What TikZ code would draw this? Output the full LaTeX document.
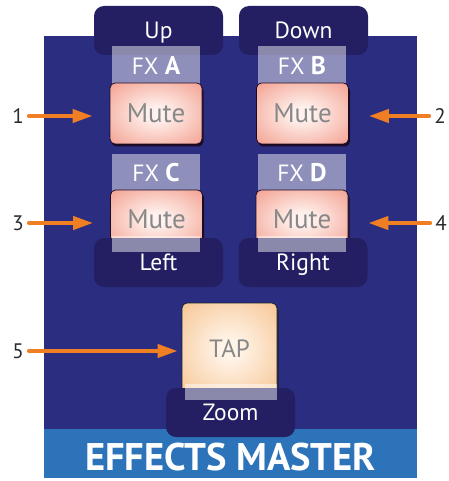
\documentclass[tikz,border=0pt]{standalone}
\usepackage{fontspec}
\setmainfont{PT Sans}
\usetikzlibrary{arrows.meta,calc,shadows}
\definecolor{panelblue}{HTML}{2B2E80}
\definecolor{tabnavy}{HTML}{231F62}
\definecolor{bandblue}{HTML}{2C73B9}
\definecolor{muteedge}{HTML}{F3A090}
\definecolor{mutecenter}{HTML}{FFF2EE}
\definecolor{tapedge}{HTML}{F6C28E}
\definecolor{tapcenter}{HTML}{FFF4E8}
\definecolor{btntext}{HTML}{888888}
\definecolor{arroworange}{HTML}{F07E22}
\definecolor{muteshadow}{HTML}{1C0A22}
\definecolor{tapshadow}{HTML}{16202A}
\definecolor{numtext}{HTML}{2A2A2A}
\pgfdeclareradialshading{mutegrad}{\pgfpoint{0bp}{0bp}}{color(0bp)=(mutecenter); color(5bp)=(mutecenter); color(36bp)=(muteedge); color(80bp)=(muteedge)}
\pgfdeclareradialshading{tapgrad}{\pgfpoint{0bp}{0bp}}{color(0bp)=(tapcenter); color(5bp)=(tapcenter); color(38bp)=(tapedge); color(80bp)=(tapedge)}
\newcommand{\fxletter}[1]{{\fontsize{25.5}{26}\selectfont\bfseries #1}}
\tikzset{
  tabbox/.style={fill=tabnavy, rounded corners=10pt, minimum width=129pt, minimum height=49pt,
    inner sep=0pt, text=white, font=\fontsize{23.5}{26}\selectfont, text height=16pt, text depth=0pt},
  stripbox/.style={fill=white, fill opacity=0.47, text opacity=1, text=white, inner sep=0pt,
    minimum width=88pt, font=\fontsize{23.5}{26}\selectfont, text height=16pt, text depth=0pt},
  mutebtn/.style={rounded corners=5pt, shading=mutegrad,
    minimum width=92pt, minimum height=61pt, inner sep=0pt, text=btntext,
    font=\fontsize{27}{30}\selectfont, draw=muteshadow, line width=0.8pt,
    drop shadow={shadow xshift=1.5pt, shadow yshift=-2.5pt, fill=muteshadow, opacity=0.95}},
  tapbtn/.style={rounded corners=5pt, shading=tapgrad,
    minimum width=95pt, minimum height=92pt, inner sep=0pt, text=btntext,
    font=\fontsize{25}{28}\selectfont, draw=tapshadow, line width=0.8pt,
    drop shadow={shadow xshift=1.5pt, shadow yshift=-2.5pt, fill=tapshadow, opacity=0.9}},
  numlabel/.style={text=numtext, font=\fontsize{21}{24}\selectfont, inner sep=1pt},
  arr/.style={draw=arroworange, line width=4pt, line cap=round,
    -{Triangle[length=20pt,width=13pt]}},
}
\begin{document}
\begin{tikzpicture}[x=1pt,y=-1pt]
\useasboundingbox (0,0) rectangle (448,481);
% panel
\fill[panelblue] (44,36) rectangle (417,478);
\fill[bandblue] (44,429) rectangle (417,478);
% top tabs
\node[tabbox] (up) at (158.5,30.5) {Up};
\node[tabbox] (down) at (303.5,30.5) {Down};
% FX strips row 1
\node[stripbox, minimum height=42pt] (fxa) at (156,67) {FX \fxletter{A}};
\node[stripbox, minimum height=42pt] (fxb) at (302,67) {FX \fxletter{B}};
% mute buttons row 1
\node[mutebtn] (m1) at (156,113.5) {Mute};
\node[mutebtn] (m2) at (302.5,113.5) {Mute};
% FX strips row 2
\node[stripbox, minimum height=38pt] (fxc) at (156,173) {FX \fxletter{C}};
\node[stripbox, minimum height=38pt] (fxd) at (302,173) {FX \fxletter{D}};
% mute buttons row 2
\node[mutebtn, minimum height=58pt] (m3) at (156.5,219) {Mute};
\node[mutebtn, minimum height=58pt] (m4) at (302,219) {Mute};
% bottom tabs row 2
\node[tabbox] (left) at (158.5,262.5) {Left};
\node[tabbox] (right) at (303,262.5) {Right};
\node[stripbox, minimum height=12pt] (sc) at (156,244) {};
\node[stripbox, minimum height=12pt] (sd) at (302,244) {};
% TAP
\node[tapbtn] (tap) at (229.5,349) {TAP};
\node[tabbox] (zoom) at (230.5,412.5) {Zoom};
\node[stripbox, minimum width=92pt, minimum height=8pt] (st) at (231,392) {};
% title
\node[text=white, font=\fontsize{38.5}{42}\selectfont\bfseries, inner sep=0pt, anchor=base] (title) at (230.5,470) {EFFECTS MASTER};
% callouts
\node[numlabel] (n1) at (18,116) {1};
\node[numlabel] (n2) at (440,116) {2};
\node[numlabel] (n3) at (18,223) {3};
\node[numlabel] (n4) at (441,223) {4};
\node[numlabel] (n5) at (18,351) {5};
\draw[arr, shorten >=17pt] ($(n1.east)+(4,0)$) -- (n1.east -| m1.west);
\draw[arr, shorten >=20pt] ($(n2.west)+(-4,0)$) -- (n2.west -| m2.east);
\draw[arr, shorten >=17pt] ($(n3.east)+(4,0)$) -- (n3.east -| m3.west);
\draw[arr, shorten >=20pt] ($(n4.west)+(-4,0)$) -- (n4.west -| m4.east);
\draw[arr, shorten >=4pt] ($(n5.east)+(4,0)$) -- (n5.east -| tap.west);
\end{tikzpicture}
\end{document}
